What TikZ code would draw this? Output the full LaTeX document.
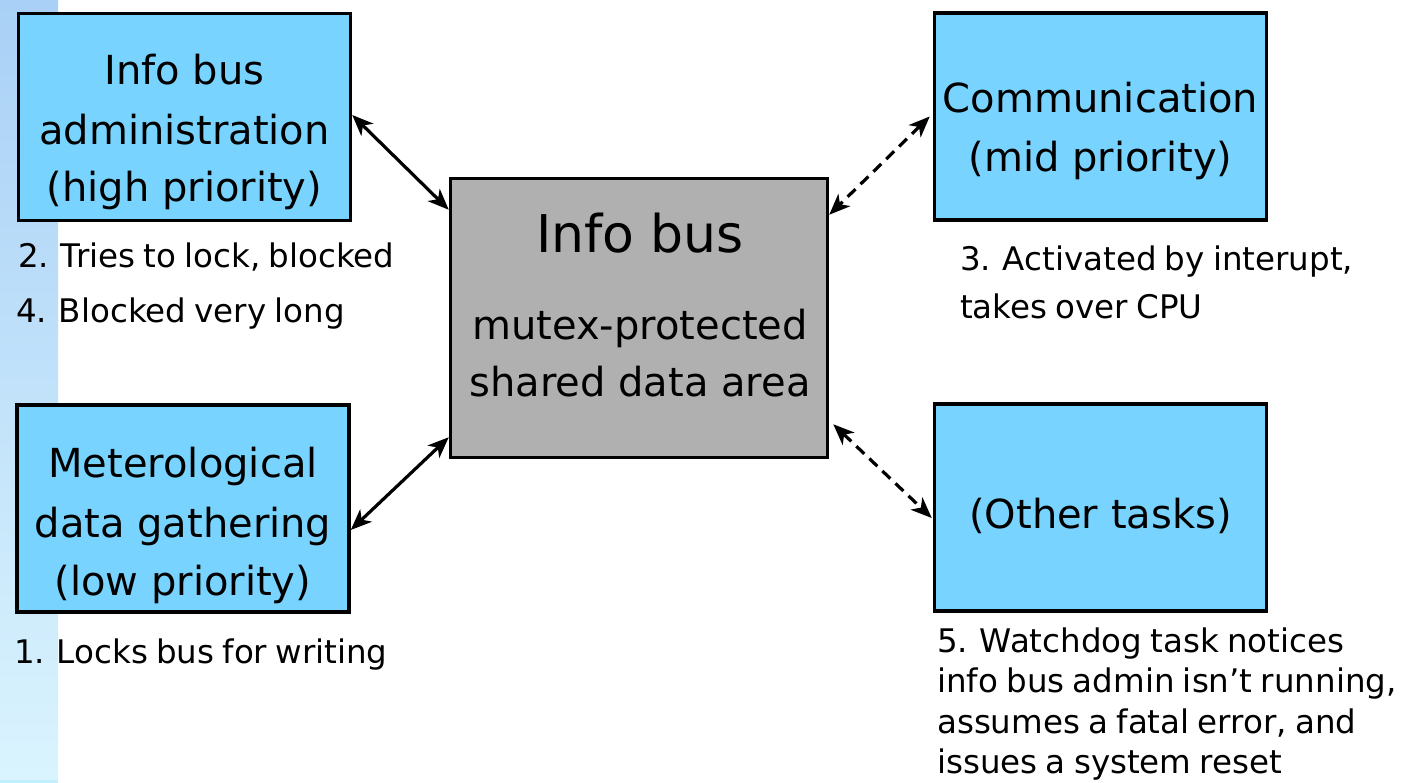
\documentclass[tikz,border=0pt]{standalone}
\usepackage{fontspec}
\setmainfont{DejaVu Sans}
\newfontfamily\notefont[WordSpace=0.8]{DejaVu Sans}
\usetikzlibrary{arrows.meta}
\definecolor{taskblue}{HTML}{78D4FE}
\definecolor{busgray}{HTML}{B0B0B0}
\definecolor{stripTop}{HTML}{A9D0F6}
\definecolor{stripMid}{HTML}{C8E8FC}
\definecolor{stripBot}{HTML}{DAF4FE}
\definecolor{stripEdge}{HTML}{C2EEFE}
\begin{document}
\begin{tikzpicture}[x=1pt,y=-1pt,
  taskbox/.style={draw=black, line width=3.5pt, fill=taskblue,
    minimum width=332pt, minimum height=207pt, inner sep=0pt},
  busbox/.style={draw=black, line width=3.5pt, fill=busgray,
    minimum width=377pt, minimum height=279pt, inner sep=0pt},
  boxline/.style={anchor=base, inner sep=0pt, font=\fontsize{40}{48}\selectfont},
  titleline/.style={anchor=base, inner sep=0pt, font=\fontsize{52}{60}\selectfont},
  noteline/.style={anchor=base west, inner sep=0pt, font=\notefont\fontsize{32.5}{40}\selectfont},
  headtip/.tip={Stealth[length=21pt,width=17pt,inset=6pt]},
  link/.style={line width=3.2pt, headtip-headtip},
  dashlink/.style={link, dash pattern=on 11pt off 7pt}
]
% page and side strip
\useasboundingbox (0,0) rectangle (1403,783);
\fill[white] (0,0) rectangle (1403,783);
\fill[top color=stripTop, middle color=stripMid, bottom color=stripBot] (0,0) rectangle (58,780);
\fill[stripEdge] (0,780) rectangle (58,783);

% task boxes and the shared bus
\node[taskbox] (admin) at (184.5,117) {};
\node[taskbox] (meteo) at (183,508.5) {};
\node[busbox]  (bus)   at (639,318) {};
\node[taskbox] (comm)  at (1100.5,116.5) {};
\node[taskbox] (other) at (1100.5,507.5) {};

% box captions
\node[boxline] (adminA) at (184.5,85)  {Info bus};
\node[boxline] (adminB) at (184.5,145) {administration};
\node[boxline] (adminC) at (184.5,202) {(high priority)};

\node[boxline] (meteoA) at (183,477) {Meterological};
\node[boxline] (meteoB) at (183,537) {data gathering};
\node[boxline] (meteoC) at (183,595) {(low priority)};

\node[titleline] (busA) at (640,253) {Info bus};
\node[boxline]   (busB) at (640,340) {mutex-protected};
\node[boxline]   (busC) at (640,397) {shared data area};

\node[boxline] (commA) at (1100.5,113) {Communication};
\node[boxline] (commB) at (1100.5,172) {(mid priority)};

\node[boxline] (otherA) at (1100.5,528) {(Other tasks)};

% event notes
\node[noteline] (note2) at (18,268) {2. Tries to lock, blocked};
\node[noteline] (note4) at (16,323) {4. Blocked very long};
\node[noteline] (note1) at (14,663) {1. Locks bus for writing};
\node[noteline] (note3a) at (960,271) {3. Activated by interupt,};
\node[noteline] (note3b) at (960,319) {takes over CPU};
\node[noteline] (note5a) at (937,652) {5. Watchdog task notices};
\node[noteline] (note5b) at (937,692) {info bus admin isn’t running,};
\node[noteline] (note5c) at (937,733) {assumes a fatal error, and};
\node[noteline] (note5d) at (937,773) {issues a system reset};

% connections to the bus
\draw[link] ([yshift=2pt]admin.east) -- ([yshift=-33pt]bus.north west);
\draw[link] ([yshift=-21.5pt]meteo.east) -- ([yshift=22pt]bus.south west);
\draw[dashlink] ([xshift=-3pt]comm.west) -- ([yshift=-38pt]bus.north east);
\draw[dashlink] ([xshift=4pt,yshift=35pt]bus.south east) -- ([xshift=-1pt,yshift=-10.5pt]other.west);
\end{tikzpicture}
\end{document}
